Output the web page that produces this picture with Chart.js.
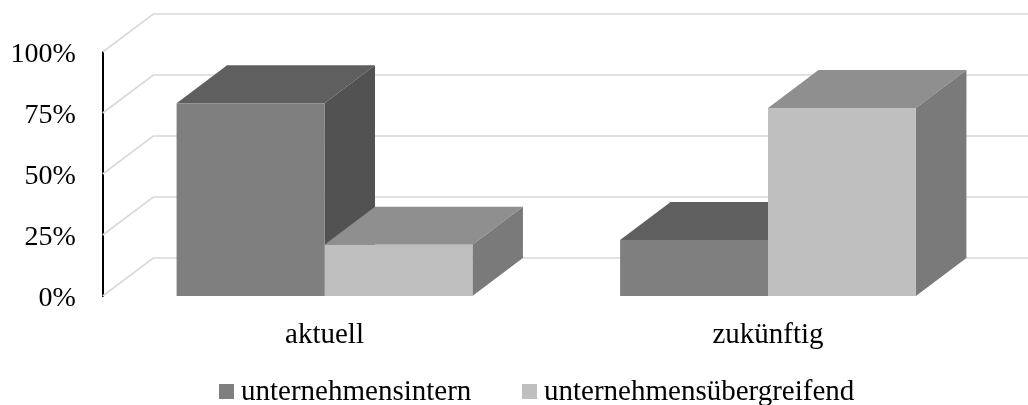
<!DOCTYPE html>
<html>
<head>
<meta charset="utf-8">
<style>html,body{margin:0;padding:0;background:#fff}canvas{display:block}</style>
<script src="https://cdn.jsdelivr.net/npm/chart.js@4"></script>
</head>
<body>
<canvas id="c" width="1028" height="405"></canvas>
<script>
const categories = ["aktuell", "zukünftig"];
const seriesNames = ["unternehmensintern", "unternehmensübergreifend"];
const internValues = [79, 23];
const uebergreifendValues = [21, 77];
const frontColors = ["#7f7f7f", "#bfbfbf"];
const topColors = ["#5f5f5f", "#8f8f8f"];
const sideColors = ["#525252", "#7a7a7a"];
const depthX = 50.5, depthY = 38;
const legendBoxX = [219, 522];

const poly = (ctx, pts, color) => {
  ctx.beginPath();
  pts.forEach((p, i) => i ? ctx.lineTo(p[0], p[1]) : ctx.moveTo(p[0], p[1]));
  ctx.closePath();
  ctx.fillStyle = color;
  ctx.fill();
};

const threeD = {
  id: "threeD",
  beforeDraw(chart) {
    chart.scales.y.getLabelItems().forEach(item => { item.textOffset += 3; });
  },
  beforeDatasetsDraw(chart) {
    const ctx = chart.ctx, y = chart.scales.y, area = chart.chartArea;
    ctx.save();
    ctx.strokeStyle = "#d9d9d9";
    ctx.lineWidth = 1.6;
    y.ticks.forEach(t => {
      const py = y.getPixelForValue(t.value);
      ctx.beginPath();
      ctx.moveTo(area.left, py);
      ctx.lineTo(area.left + depthX, py - depthY);
      ctx.lineTo(chart.width, py - depthY);
      ctx.stroke();
    });
    categories.forEach((_, i) => {
      chart.data.datasets.forEach((_d, d) => {
        const b = chart.getDatasetMeta(d).data[i];
        const l = b.x - b.width / 2, r = b.x + b.width / 2, t = b.y, bt = b.base;
        poly(ctx, [[l, t], [l + depthX, t - depthY], [r + depthX, t - depthY], [r, t]], topColors[d]);
        poly(ctx, [[r, t], [r + depthX, t - depthY], [r + depthX, bt - depthY], [r, bt]], sideColors[d]);
      });
    });
    ctx.restore();
  },
  afterDraw(chart) {
    const ctx = chart.ctx;
    ctx.save();
    ctx.font = "29px 'Liberation Serif'";
    ctx.textBaseline = "alphabetic";
    ctx.textAlign = "left";
    chart.data.datasets.forEach((ds, d) => {
      ctx.fillStyle = ds.backgroundColor;
      ctx.fillRect(legendBoxX[d], 384, 15, 15);
      ctx.fillStyle = "#000";
      ctx.fillText(ds.label, legendBoxX[d] + 22, 400);
    });
    ctx.restore();
  }
};

const font = { family: "'Liberation Serif'", size: 29 };
const yFont = { family: "'Liberation Serif'", size: 28 };
new Chart(document.getElementById("c"), {
  type: "bar",
  data: {
    labels: categories,
    datasets: [
      { label: seriesNames[0], data: internValues, backgroundColor: frontColors[0] },
      { label: seriesNames[1], data: uebergreifendValues, backgroundColor: frontColors[1] }
    ]
  },
  options: {
    responsive: false,
    animation: false,
    devicePixelRatio: 1,
    layout: { padding: { left: 4, right: 38.25, top: 52, bottom: 0 } },
    datasets: { bar: { categoryPercentage: 0.667, barPercentage: 1 } },
    scales: {
      x: {
        grid: { display: false, drawTicks: false },
        border: { display: false },
        ticks: { color: "#000", font, padding: 22, maxRotation: 0 },
        afterFit(s) { s.height = 109; }
      },
      y: {
        min: 0, max: 100,
        grid: { display: false, drawTicks: false },
        border: { display: true, color: "#000", width: 2 },
        ticks: { color: "#000", font: yFont, stepSize: 25, padding: 27, callback: v => v + "%" },
        afterFit(s) { s.width = 98.75; }
      }
    },
    plugins: { tooltip: { enabled: false }, legend: { display: false } }
  },
  plugins: [threeD]
});
</script>
</body>
</html>
